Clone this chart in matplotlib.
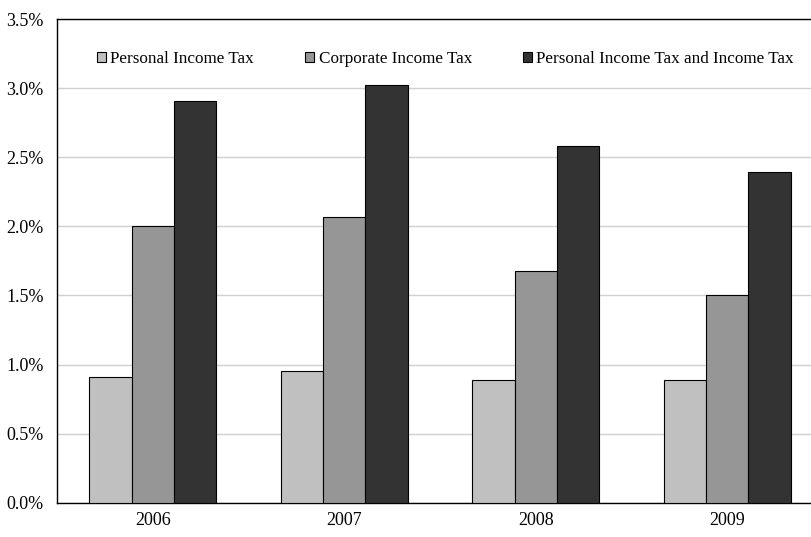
import matplotlib
matplotlib.use("Agg")
import matplotlib.pyplot as plt
import numpy as np

years = ["2006", "2007", "2008", "2009"]
series_names = ["Personal Income Tax", "Corporate Income Tax",
                "Personal Income Tax and Income Tax"]
personal_income_tax = [0.91, 0.95, 0.89, 0.89]
corporate_income_tax = [2.00, 2.07, 1.68, 1.50]
combined_tax = [2.91, 3.02, 2.58, 2.39]
yticks = [0.0, 0.5, 1.0, 1.5, 2.0, 2.5, 3.0, 3.5]

colors = ["#C0C0C0", "#969696", "#333333"]

plt.rcParams["font.family"] = ["Liberation Serif", "DejaVu Serif"]
plt.rcParams["font.size"] = 12

fig = plt.figure(figsize=(8.11, 5.37), dpi=100)
ax = fig.add_axes([57 / 811, 1 - 502.7 / 537, (823 - 57) / 811, (502.7 - 19) / 537])

x = np.arange(len(years))
width = 0.221
data = [personal_income_tax, corporate_income_tax, combined_tax]
for i, (vals, name, c) in enumerate(zip(data, series_names, colors)):
    ax.bar(x + (i - 1) * width, vals, width, color=c, edgecolor="black",
           linewidth=0.8, label=name, zorder=3)

ax.set_xlim(-0.5, len(years) - 0.5)
ax.set_ylim(0, 3.5)
ax.set_yticks(yticks)
ax.set_yticklabels([f"{v:.1f}%" for v in yticks])
ax.set_xticks(x)
ax.set_xticklabels(years)
ax.tick_params(axis="both", length=0, labelsize=13)
ax.tick_params(axis="y", pad=9.5)
ax.tick_params(axis="x", pad=6.5)
ax.yaxis.grid(True, color="#D0D0D0", linewidth=1.0, zorder=0)
ax.set_axisbelow(True)
for side in ["left", "top", "bottom"]:
    ax.spines[side].set_color("black")
    ax.spines[side].set_linewidth(1.0)
ax.spines["right"].set_visible(False)

leg = fig.legend(loc="center", bbox_to_anchor=(445.5 / 811, 1 - 59 / 537),
                 ncol=3, frameon=False, fontsize=12.3,
                 handlelength=0.53, handleheight=0.6, handletextpad=0.25,
                 columnspacing=3.0, borderpad=0)

fig.savefig("out.png", dpi=100)
